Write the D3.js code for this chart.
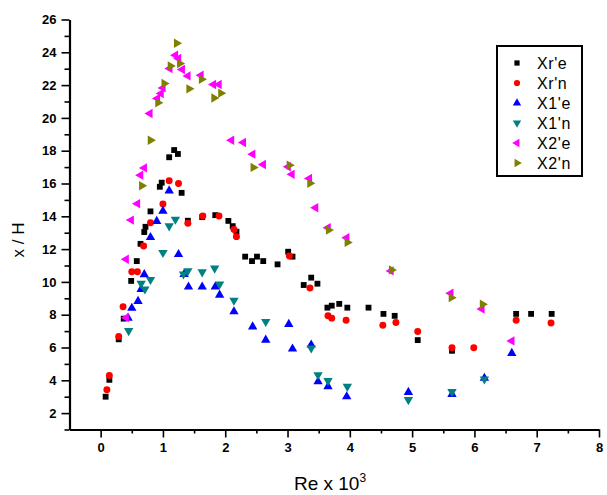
<!DOCTYPE html>
<html><head><meta charset="utf-8">
<script src="https://cdn.jsdelivr.net/npm/d3@7"></script>
<style>body{margin:0;background:#fff}</style>
</head><body><svg id="c" width="607" height="495"></svg>
<script>
const seriesNames = ["Xr'e", "Xr'n", "X1'e", "X1'n", "X2'e", "X2'n"];
const xrE = [[0.08,3.0],[0.14,4.03],[0.29,6.5],[0.37,7.76],[0.49,10.06],[0.58,11.27],[0.64,12.32],[0.70,13.04],[0.72,13.36],[0.80,14.3],[0.95,15.8],[0.98,16.05],[1.10,17.6],[1.18,18.04],[1.24,17.8],[1.30,15.43],[1.40,13.73],[1.63,13.95],[1.84,14.07],[2.05,13.72],[2.12,13.4],[2.18,13.06],[2.32,11.54],[2.43,11.27],[2.51,11.54],[2.61,11.27],[2.84,11.07],[3.01,11.84],[3.08,11.54],[3.26,9.81],[3.38,10.26],[3.48,9.89],[3.64,8.43],[3.71,8.55],[3.83,8.66],[3.96,8.43],[4.30,8.43],[4.54,8.05],[4.72,7.93],[5.09,6.45],[5.64,5.8],[6.67,8.05],[6.91,8.05],[7.24,8.05]];
const xrN = [[0.10,3.42],[0.14,4.29],[0.29,6.67],[0.36,8.49],[0.50,10.62],[0.59,10.62],[0.69,12.19],[0.80,13.61],[1.00,14.75],[1.10,16.17],[1.25,16.0],[1.40,13.57],[1.64,14.02],[1.90,14.02],[2.14,13.2],[2.18,12.76],[3.03,11.58],[3.36,9.63],[3.65,7.94],[3.71,7.79],[3.94,7.66],[4.53,7.36],[4.74,7.52],[5.09,6.97],[5.64,5.98],[5.99,5.98],[6.67,7.66],[7.23,7.5]];
const x1E = [[0.44,7.8],[0.50,8.4],[0.60,8.82],[0.65,9.55],[0.70,10.45],[0.80,12.72],[0.90,13.7],[1.00,14.32],[1.10,15.56],[1.25,11.68],[1.34,10.47],[1.41,9.7],[1.63,9.7],[1.84,9.7],[1.91,9.2],[2.14,8.19],[2.44,7.27],[2.65,6.46],[3.02,7.42],[3.08,5.92],[3.38,6.16],[3.49,3.92],[3.65,3.62],[3.95,3.01],[4.94,3.27],[5.64,3.15],[6.16,4.13],[6.60,5.65]];
const x1N = [[0.45,7.02],[0.65,9.9],[0.71,9.56],[0.80,10.14],[1.00,11.78],[1.10,13.41],[1.20,13.81],[1.33,10.47],[1.40,10.67],[1.63,10.6],[1.83,10.83],[1.91,9.86],[2.14,8.87],[2.65,7.58],[3.38,5.96],[3.49,4.33],[3.65,3.97],[3.96,3.62],[4.94,2.81],[5.64,3.3],[6.16,4.07]];
const x2E = [[0.41,7.82],[0.41,11.38],[0.49,13.77],[0.59,14.77],[0.64,16.51],[0.70,16.95],[0.79,20.27],[0.91,21.19],[0.97,21.49],[1.00,21.83],[1.11,23.01],[1.20,23.82],[1.25,23.62],[1.31,22.95],[1.40,22.56],[1.61,22.6],[1.81,22.04],[1.90,22.04],[2.10,18.64],[2.29,18.5],[2.44,17.79],[2.61,17.16],[3.01,17.02],[3.07,16.56],[3.35,16.31],[3.45,14.52],[3.65,13.3],[3.95,12.69],[4.66,10.67],[5.62,9.31],[6.12,8.35],[6.60,6.4]];
const x2N = [[0.66,15.86],[0.80,18.64],[0.92,20.92],[1.02,22.1],[1.12,23.17],[1.22,24.55],[1.27,23.31],[1.42,21.77],[1.62,22.35],[1.82,21.21],[1.93,21.51],[2.45,16.98],[3.03,17.12],[3.36,16.01],[3.66,13.16],[3.96,12.41],[4.67,10.73],[5.63,9.04],[6.13,8.64]];
const xMajorTicks = [0,1,2,3,4,5,6,7,8];
const xMinorTicks = [0.5,1.5,2.5,3.5,4.5,5.5,6.5,7.5];
const yMajorTicks = [2,4,6,8,10,12,14,16,18,20,22,24,26];
const yMinorTicks = [1,3,5,7,9,11,13,15,17,19,21,23,25];

const svg = d3.select("#c");
const x = d3.scaleLinear().domain([-0.5, 8]).range([69.5, 599]);
const y = d3.scaleLinear().domain([1, 26]).range([429.5, 19.5]);

const fontTick = "'Liberation Sans', Arial, sans-serif";

// Axes
const gx = svg.append("g").attr("transform", "translate(0,429.5)");
gx.call(d3.axisBottom(x).tickValues(xMinorTicks).tickSize(4).tickSizeOuter(0).tickFormat(""));
gx.call(g => g.select(".domain").remove());
const gx2 = svg.append("g").attr("transform", "translate(0,429.5)");
gx2.call(d3.axisBottom(x).tickValues(xMajorTicks).tickSize(8).tickSizeOuter(0).tickPadding(5).tickFormat(d3.format("d")));
const gy = svg.append("g").attr("transform", "translate(69.5,0)");
gy.call(d3.axisLeft(y).tickValues(yMinorTicks).tickSize(5).tickSizeOuter(0).tickFormat(""));
gy.call(g => g.select(".domain").remove());
const gy2 = svg.append("g").attr("transform", "translate(69.5,0)");
gy2.call(d3.axisLeft(y).tickValues(yMajorTicks).tickSize(8).tickSizeOuter(0).tickPadding(5).tickFormat(d3.format("d")));

svg.selectAll(".tick line").attr("stroke", "#000").attr("stroke-width", 1.6);
svg.selectAll(".domain").attr("stroke", "#000").attr("stroke-width", 2.2);
svg.selectAll(".tick text").attr("font-family", fontTick).attr("font-weight", "bold")
   .attr("font-size", 13).attr("fill", "#000");

// Axis titles
svg.append("text").attr("x", 330).attr("y", 490).attr("text-anchor", "middle")
  .attr("font-family", fontTick).attr("font-size", 19).attr("fill", "#000")
  .text("Re x 10").append("tspan").attr("dy", -8).attr("font-size", 12).text("3");
svg.append("text").attr("transform", "translate(24,240) rotate(-90)").attr("text-anchor", "middle")
  .attr("font-family", fontTick).attr("font-size", 17).attr("fill", "#000").text("x / H");

// Series
const series = [
  {name: seriesNames[0], data: xrE, color: "#000000", type: d3.symbolSquare, size: 34, rot: 0},
  {name: seriesNames[1], data: xrN, color: "#ff0000", type: d3.symbolCircle, size: 38, rot: 0},
  {name: seriesNames[2], data: x1E, color: "#0000ff", type: d3.symbolTriangle, size: 38, rot: 0},
  {name: seriesNames[3], data: x1N, color: "#008080", type: d3.symbolTriangle, size: 38, rot: 180},
  {name: seriesNames[4], data: x2E, color: "#ff00ff", type: d3.symbolTriangle, size: 38, rot: -90},
  {name: seriesNames[5], data: x2N, color: "#808000", type: d3.symbolTriangle, size: 38, rot: 90}
];
series.forEach(s => {
  svg.append("g").selectAll("path").data(s.data).join("path")
    .attr("d", d3.symbol().type(s.type).size(s.size))
    .attr("transform", d => `translate(${x(d[0])},${y(d[1])}) rotate(${s.rot})`)
    .attr("fill", s.color);
});

// Legend
const lg = svg.append("g");
lg.append("rect").attr("x", 497).attr("y", 46).attr("width", 85).attr("height", 130)
  .attr("fill", "#fff").attr("stroke", "#000").attr("stroke-width", 2);
series.forEach((s, i) => {
  const cy = 63 + i * 20;
  lg.append("path").attr("d", d3.symbol().type(s.type).size(s.size * 0.8))
    .attr("transform", `translate(517,${cy}) rotate(${s.rot})`).attr("fill", s.color);
  lg.append("text").attr("x", 537).attr("y", cy + 5.5).attr("font-family", fontTick)
    .attr("font-size", 16).attr("letter-spacing", 0.6).attr("fill", "#000").text(s.name);
});
</script>
</body></html>
